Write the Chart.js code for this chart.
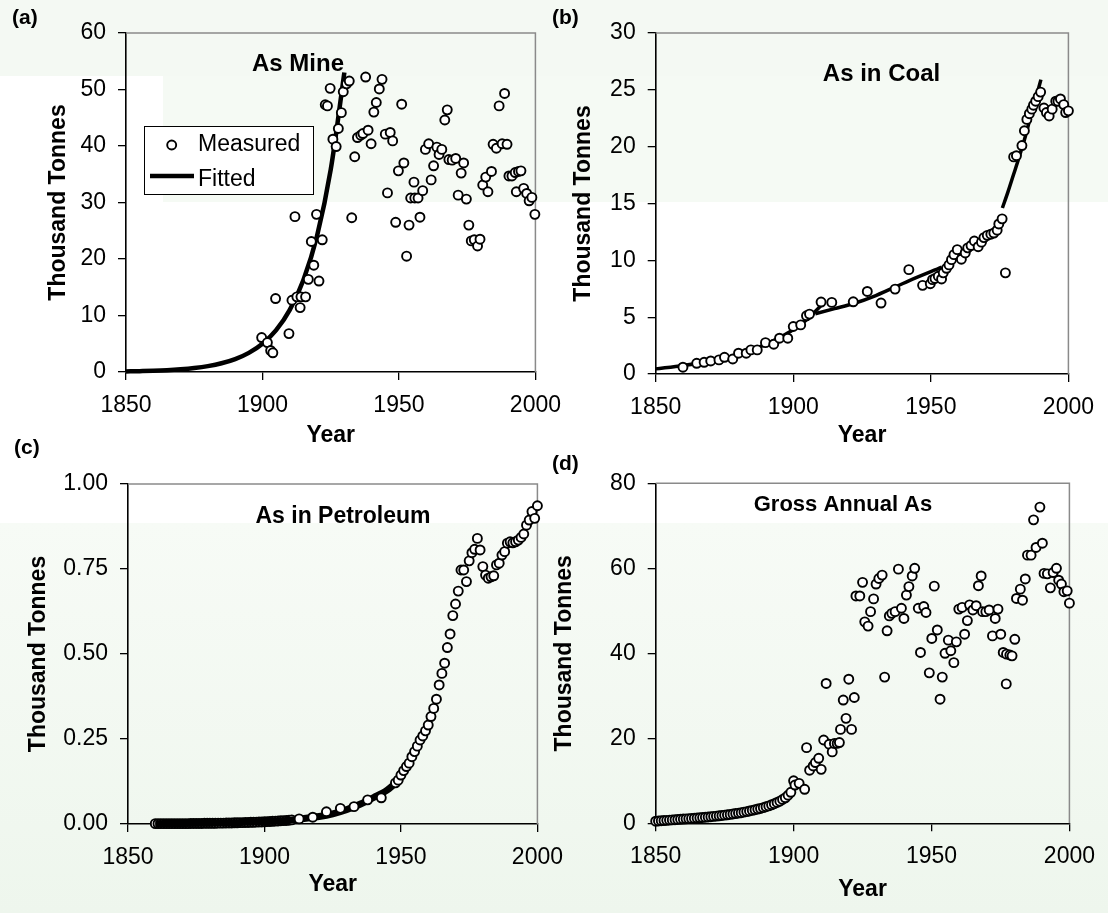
<!DOCTYPE html>
<html><head><meta charset="utf-8">
<script src="https://cdn.jsdelivr.net/npm/chart.js@4.4.1/dist/chart.umd.min.js"></script>
<style>
html,body{margin:0;padding:0;}
body{width:1108px;height:913px;position:relative;overflow:hidden;background:#ffffff;font-family:"Liberation Sans",Arial,sans-serif;}
.bg{position:absolute;}
canvas{position:absolute;}
.lbl{position:absolute;font:bold 21px "Liberation Sans",Arial,sans-serif;color:#000;line-height:21px;white-space:nowrap;}
</style></head><body>
<div class="bg" style="left:0;top:0;width:1108px;height:76px;background:#f4f9f3"></div>
<div class="bg" style="left:163px;top:76px;width:945px;height:126px;background:#f5faf4"></div>
<div class="bg" style="left:0;top:523px;width:1108px;height:390px;background:linear-gradient(#f7fbf6,#eef6ed)"></div>

<canvas id="ca" width="573" height="456" style="left:0;top:0"></canvas>
<canvas id="cb" width="566" height="456" style="left:540px;top:0"></canvas>
<canvas id="cc" width="575" height="470" style="left:0;top:440px"></canvas>
<canvas id="cd" width="567" height="470" style="left:540px;top:440px"></canvas>

<div class="lbl" style="left:12px;top:6px">(a)</div>
<div class="lbl" style="left:552px;top:6px">(b)</div>
<div class="lbl" style="left:14px;top:436px">(c)</div>
<div class="lbl" style="left:552px;top:452px">(d)</div>

<script>
// ---------- DATA ----------
const yearTicks = [1850, 1900, 1950, 2000];
const mineTicks = [0, 10, 20, 30, 40, 50, 60];
const coalTicks = [0, 5, 10, 15, 20, 25, 30];
const petTicks = [0, 0.25, 0.5, 0.75, 1.0];
const grossTicks = [0, 20, 40, 60, 80];

// (a) As Mine
const mineYears = [1899.7,1901.8,1903,1903.8,1904.8,1909.7,1910.8,1911.9,1912.6,1913.8,1914.1,1915.8,1916.8,1917.9,1918.8,1919.8,1920.7,1921.9,1923,1923.8,1924.8,1925.8,1927,1927.8,1928.9,1929.6,1930.8,1931.8,1932.7,1933.8,1934.8,1936,1936.8,1937.8,1938.7,1939.8,1940.8,1941.7,1942.8,1943.8,1945,1945.8,1946.8,1947.7,1948.8,1949.8,1951,1951.8,1952.8,1953.7,1954.3,1955.5,1955.8,1957,1957.7,1958.7,1959.7,1960.9,1961.8,1962.7,1963.9,1964.7,1965.7,1966.8,1967.7,1968.3,1969.5,1970.8,1971.7,1972.8,1973.7,1974.7,1975.6,1976.5,1977.6,1978.8,1979.7,1980.7,1981.8,1982.6,1983.9,1984.5,1985.7,1986.7,1987.8,1988.7,1989.6,1990.3,1991.4,1992.6,1993,1993.8,1994.7,1995.7,1996.8,1997.7,1998.7,1999.8];
const mineMeasured = [6.1,5.2,3.8,3.4,13.0,6.8,12.7,27.5,13.3,11.4,13.3,13.3,16.4,23.1,18.9,27.9,16.1,23.4,47.3,47.1,50.2,41.2,39.9,43.1,45.9,49.6,51.0,51.5,27.3,38.1,41.5,41.9,42.2,52.2,42.8,40.4,46.0,47.7,50.1,51.8,42.1,31.7,42.4,40.9,26.5,35.6,47.4,37.0,20.5,26.0,30.8,33.6,30.8,30.8,27.4,32.1,39.4,40.4,34.0,36.5,39.8,38.5,39.4,44.6,46.4,37.6,37.5,37.8,31.3,35.2,37.0,30.6,26.0,23.2,23.4,22.3,23.5,33.1,34.5,31.9,35.5,40.3,39.6,47.1,40.4,49.3,40.3,34.7,34.7,35.3,31.9,35.5,35.6,32.5,31.6,30.3,30.9,27.9];
const mineFitYears = [1850,1855,1860,1865,1870,1875,1880,1885,1890,1895,1900,1905,1910,1915,1920,1925,1930];
const mineFitted = [0.10,0.15,0.21,0.31,0.47,0.70,1.04,1.54,2.28,3.39,5.0,7.4,11.0,16.3,24.1,35.8,53.0];

// (b) As in Coal
const coalYears = [1859.9,1864.9,1867.6,1870,1873,1875,1878,1880.1,1882.9,1884.6,1886.9,1889.9,1892.9,1895,1898,1900,1902.7,1904.8,1905.9,1910.1,1914,1921.8,1926.9,1931.9,1937,1942,1947,1949.8,1950.6,1951.5,1952.7,1953.9,1954.5,1955.7,1956.6,1957.5,1958.4,1959.6,1961.1,1962.5,1963.4,1964.6,1965.8,1967.2,1968.4,1969.3,1970.5,1971.8,1972.9,1974.1,1974.7,1975.9,1977.1,1980.1,1981.1,1983.1,1984,1984.9,1985.8,1986.7,1987.3,1988.1,1989,1989.9,1991.1,1992,1993,1994.1,1995.4,1996.2,1997.1,1998.3,1999,2000];
const coalMeasured = [0.6,0.94,1.03,1.15,1.24,1.47,1.32,1.83,1.83,2.12,2.12,2.76,2.62,3.15,3.15,4.18,4.32,5.12,5.27,6.33,6.3,6.35,7.26,6.24,7.47,9.18,7.8,7.94,8.3,8.4,8.6,8.36,8.9,9.3,9.6,10.06,10.5,10.94,10.1,10.65,11.1,11.3,11.7,11.2,11.6,12.0,12.2,12.3,12.4,12.65,13.2,13.65,8.9,19.1,19.2,20.1,21.4,22.4,22.9,23.3,23.65,24.0,24.4,24.8,23.4,23.0,22.7,23.3,24.0,24.0,24.2,23.7,23.0,23.15];
const coalFit1Years = [1850,1860,1870,1880,1890,1900,1905,1910];
const coalFit1 = [0.45,0.75,1.15,1.7,2.6,3.9,4.8,6.0];
const coalFit2Years = [1908,1915,1922,1930,1942,1954];
const coalFit2 = [5.3,5.75,6.2,6.9,8.2,9.4];
const coalFit3Years = [1953,1958,1963,1968,1972,1975];
const coalFit3 = [8.4,9.9,11.0,11.8,12.5,13.3];
const coalFit4Years = [1976,1978,1980,1982,1984,1986,1988,1990];
const coalFit4 = [14.6,16.0,17.5,19.0,20.6,22.4,24.1,25.9];

// (c) As in Petroleum
const petEarlyYears = [1860,1861,1862,1863,1864,1865,1866,1867,1868,1869,1870,1871,1872,1873,1874,1875,1876,1877,1878,1879,1880,1881,1882,1883,1884,1885,1886,1887,1888,1889,1890,1891,1892,1893,1894,1895,1896,1897,1898,1899,1900,1901,1902,1903,1904,1905,1906,1907,1908,1909,1910];
const petEarly = [0.001,0.001,0.001,0.001,0.001,0.001,0.001,0.001,0.001,0.001,0.001,0.001,0.001,0.0015,0.0015,0.0015,0.0015,0.0015,0.002,0.002,0.002,0.002,0.002,0.0025,0.0025,0.0025,0.003,0.003,0.003,0.0035,0.0035,0.004,0.004,0.0045,0.0045,0.005,0.005,0.0055,0.006,0.006,0.0065,0.007,0.0075,0.008,0.0085,0.009,0.0095,0.010,0.0105,0.011,0.012];
const petYears = [1912.7,1917.7,1922.7,1927.8,1932.8,1937.8,1942.8,1948,1949,1950,1951,1952,1953,1954,1955,1956,1957,1958,1959,1960,1961,1962,1963,1964,1965,1966,1967,1968,1969,1970,1971,1972,1973,1974,1975,1976,1977,1978,1979,1980,1981,1982,1983,1984,1985,1986,1987,1988,1989,1990,1991,1992,1993,1994,1995,1996,1997,1998,1999,2000];
const petMeasured = [0.015,0.020,0.036,0.046,0.051,0.071,0.077,0.121,0.129,0.144,0.157,0.169,0.179,0.198,0.213,0.229,0.247,0.259,0.274,0.291,0.316,0.340,0.367,0.409,0.443,0.473,0.519,0.559,0.613,0.647,0.685,0.747,0.747,0.713,0.774,0.798,0.808,0.840,0.806,0.757,0.732,0.723,0.727,0.730,0.762,0.767,0.791,0.801,0.826,0.830,0.827,0.830,0.835,0.843,0.853,0.879,0.894,0.919,0.899,0.936];
const petFitYears = [1860,1870,1880,1890,1900,1910,1920,1925,1930,1935,1940,1945,1950];
const petFitted = [0.001,0.0015,0.0025,0.004,0.007,0.012,0.022,0.030,0.042,0.058,0.078,0.100,0.135];

// (d) Gross Annual As
const grossYears = [1850,1851,1852,1853,1854,1855,1856,1857,1858,1859,1860,1861,1862,1863,1864,1865,1866,1867,1868,1869,1870,1871,1872,1873,1874,1875,1876,1877,1878,1879,1880,1881,1882,1883,1884,1885,1886,1887,1888,1889,1890,1891,1892,1893,1894,1895,1896,1897,1898,1899,
1900,1900.5,1902,1904,1904.7,1905.8,1907.1,1907.9,1909.1,1910,1910.9,1911.8,1912.9,1914,1914.8,1915.8,1916.6,1917,1918,1919,1920,1921,1922,1922.6,1924,1925,1925.8,1927,1927.9,1929,1929.9,1930.9,1932.1,1933,1933.9,1934.7,1935.6,1936.8,1938,1939.1,1940,1940.9,1941.8,1943,1943.9,1945.2,1946,1947.2,1948,1949.2,1950.1,1951,1952.1,1953.1,1953.9,1954.9,1956.1,1957,1958.1,1959,1959.9,1961.1,1962,1963,1963.8,1965,1966.2,1967,1968,1968.5,1969.7,1970.9,1972.1,1973.1,1974.1,1975.1,1976,1977.1,1977.2,1978.4,1979.2,1980.2,1980.8,1982.2,1983,1984,1984.8,1986.1,1987,1987.9,1989.3,1990.2,1990.8,1992,1993.1,1994.1,1995.3,1996.1,1997.1,1998,1999.2,2000];
const grossMeasured = [0.5,0.55,0.6,0.65,0.7,0.75,0.8,0.85,0.9,0.95,1.0,1.05,1.1,1.15,1.2,1.25,1.3,1.36,1.42,1.48,1.55,1.62,1.69,1.76,1.84,1.92,2.0,2.1,2.2,2.3,2.4,2.5,2.62,2.75,2.9,3.05,3.2,3.35,3.5,3.7,3.9,4.1,4.35,4.6,4.9,5.2,5.6,6.0,6.6,7.3,
10.0,9.0,9.4,8.0,17.8,12.5,13.5,14.3,15.3,12.7,19.6,32.9,18.6,16.8,18.8,18.8,19.0,22.1,29.0,24.7,33.9,22.1,29.6,53.5,53.5,56.7,47.4,46.4,49.8,52.8,56.3,57.6,58.4,34.4,45.3,48.8,49.4,49.8,59.8,50.6,48.2,53.7,55.7,58.2,60.0,50.6,40.2,51.0,49.6,35.4,43.5,55.8,45.5,29.2,34.4,40.0,43.1,40.6,37.8,42.7,50.4,50.8,44.5,47.7,51.4,50.2,51.2,55.9,58.2,49.8,49.8,50.2,44.1,48.2,50.4,44.5,40.2,32.8,39.8,39.6,39.4,43.3,52.9,55.1,52.5,57.5,63.1,63.1,71.4,64.9,74.4,65.9,58.8,58.7,55.4,59.0,60.0,57.2,56.3,54.5,54.7,51.8];

// ---------- HELPERS ----------
const FONT = '"Liberation Sans", Arial, sans-serif';
const pts = (xs, ys) => xs.map((x, i) => ({x: x, y: ys[i]}));

function measured(xs, ys, order) {
  return {type: 'scatter', data: pts(xs, ys), showLine: false, pointRadius: 4.5,
    pointBorderWidth: 1.9, pointBackgroundColor: '#ffffff', pointBorderColor: '#000000',
    order: order, clip: false};
}
function fitted(xs, ys, width, order) {
  return {type: 'line', data: pts(xs, ys), showLine: true, pointRadius: 0, borderColor: '#000',
    borderWidth: width, cubicInterpolationMode: 'monotone', fill: false, order: order, clip: false,
    borderCapStyle: 'butt'};
}

function axisX(xh, padBottom) {
  return {type: 'linear', min: 1850, max: 2000,
    afterBuildTicks: s => { s.ticks = yearTicks.map(v => ({value: v})); },
    afterFit: s => { s.height = xh; },
    ticks: {font: {family: FONT, size: 23}, color: '#000', padding: 12, maxRotation: 0, autoSkip: false,
      callback: v => String(v)},
    grid: {drawOnChartArea: false, drawTicks: true, tickLength: 8, color: '#000', lineWidth: 1.3},
    border: {display: true, color: '#000', width: 1.6},
    title: {display: true, text: 'Year', color: '#000', font: {family: FONT, size: 23, weight: 'bold'},
      padding: {top: 0, bottom: padBottom}}
  };
}
function axisY(max, tickArr, yw, padTop, decimals) {
  return {type: 'linear', min: 0, max: max, position: 'left',
    afterBuildTicks: s => { s.ticks = tickArr.map(v => ({value: v})); },
    afterFit: s => { s.width = yw; },
    ticks: {font: {family: FONT, size: 23}, color: '#000', padding: 12,
      callback: v => decimals ? v.toFixed(decimals) : String(v)},
    grid: {drawOnChartArea: false, drawTicks: true, tickLength: 8, color: '#000', lineWidth: 1.3},
    border: {display: true, color: '#000', width: 1.6},
    title: {display: true, text: 'Thousand Tonnes', color: '#000', font: {family: FONT, size: 23, weight: 'bold'},
      padding: {top: padTop, bottom: 0}}
  };
}

const framePlugin = {
  id: 'frame',
  beforeDatasetsDraw(chart) {
    const {ctx, chartArea: a} = chart;
    ctx.save();
    ctx.strokeStyle = '#8a8a8a';
    ctx.lineWidth = 1.5;
    ctx.beginPath();
    ctx.moveTo(a.left, a.top);
    ctx.lineTo(a.right, a.top);
    ctx.lineTo(a.right, a.bottom);
    ctx.stroke();
    ctx.restore();
  }
};

function titlePlugin(text, cx, capCenter, size) {
  return {
    id: 'ptitle',
    afterDatasetsDraw(chart) {
      const ctx = chart.ctx;
      ctx.save();
      ctx.font = 'bold ' + size + 'px ' + FONT;
      ctx.fillStyle = '#000';
      ctx.textAlign = 'center';
      ctx.textBaseline = 'alphabetic';
      ctx.fillText(text, cx, capCenter + 0.358 * size);
      ctx.restore();
    }
  };
}

const legendPlugin = {
  id: 'mlegend',
  afterDatasetsDraw(chart) {
    const ctx = chart.ctx;
    ctx.save();
    ctx.fillStyle = '#ffffff';
    ctx.fillRect(144, 126, 169, 68);
    ctx.strokeStyle = '#000';
    ctx.lineWidth = 1;
    ctx.strokeRect(144.5, 126.5, 169, 68);
    ctx.beginPath();
    ctx.arc(171.7, 145, 4.5, 0, Math.PI * 2);
    ctx.fillStyle = '#fff';
    ctx.fill();
    ctx.lineWidth = 1.9;
    ctx.stroke();
    ctx.beginPath();
    ctx.lineWidth = 4.5;
    ctx.moveTo(150, 176);
    ctx.lineTo(194, 176);
    ctx.stroke();
    ctx.fillStyle = '#000';
    ctx.font = '23px ' + FONT;
    ctx.textAlign = 'left';
    ctx.textBaseline = 'alphabetic';
    ctx.fillText('Measured', 198, 150.7);
    ctx.fillText('Fitted', 198, 186.2);
    ctx.restore();
  }
};

function make(id, datasets, xAxis, yAxis, padding, plugins) {
  return new Chart(document.getElementById(id), {
    type: 'scatter',
    data: {datasets: datasets},
    options: {
      responsive: false, animation: false, devicePixelRatio: 1,
      layout: {padding: padding},
      plugins: {legend: {display: false}, tooltip: {enabled: false}},
      scales: {x: xAxis, y: yAxis}
    },
    plugins: plugins
  });
}

// (a)
make('ca',
  [fitted(mineFitYears, mineFitted, 4.5, 2), measured(mineYears, mineMeasured, 1)],
  axisX(84, 7), axisY(60, mineTicks, 126, 45, 0),
  {left: 0, top: 33, right: 30, bottom: 0},
  [framePlugin, titlePlugin('As Mine', 298, 62, 24), legendPlugin]);

// (b)
make('cb',
  [fitted(coalFit1Years, coalFit1, 3.5, 2), fitted(coalFit2Years, coalFit2, 3.5, 2),
   fitted(coalFit3Years, coalFit3, 3.5, 2), fitted(coalFit4Years, coalFit4, 3.5, 2),
   measured(coalYears, coalMeasured, 1)],
  axisX(82, 7), axisY(30, coalTicks, 115.7, 30, 0),
  {left: 0, top: 33, right: 30, bottom: 0},
  [framePlugin, titlePlugin('As in Coal', 881.5 - 540, 72.5, 24)]);

// (c)
make('cc',
  [measured(petEarlyYears, petEarly, 3), fitted(petFitYears, petFitted, 7, 2), measured(petYears, petMeasured, 1)],
  axisX(86, 12), axisY(1, petTicks, 128, 25, 2),
  {left: 0, top: 44, right: 30, bottom: 0},
  [framePlugin, titlePlugin('As in Petroleum', 343, 515 - 440, 23)]);

// (d)
make('cd',
  [measured(grossYears, grossMeasured, 1)],
  axisX(86.7, 7), axisY(80, grossTicks, 115.7, 11, 0),
  {left: 0, top: 43.3, right: 30, bottom: 0},
  [framePlugin, titlePlugin('Gross Annual As', 843 - 540, 503.5 - 440, 22)]);
</script>
</body></html>
